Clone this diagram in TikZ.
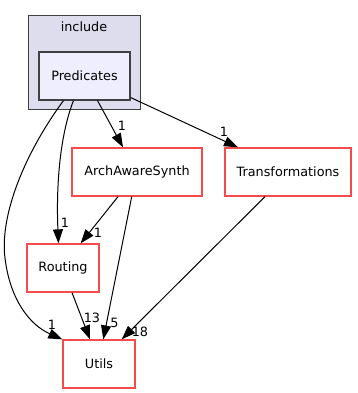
\documentclass[tikz,border=0pt]{standalone}
\usepackage{fontspec}
\setmainfont{DejaVu Sans}
\usetikzlibrary{arrows.meta}
\definecolor{clusterfill}{HTML}{DDDDEE}
\definecolor{dirfill}{HTML}{EEEEFF}
\definecolor{dirred}{RGB}{245,75,75}
\definecolor{clusterline}{HTML}{404040}
\begin{document}
\begin{tikzpicture}[x=1pt,y=-1pt,
  every node/.style={font=\fontsize{12.8}{15}\selectfont, inner sep=0pt},
  dirbox/.style={draw=dirred, line width=1.3pt, fill=white, minimum height=48pt},
  curdir/.style={draw=clusterline, line width=1.1pt, fill=dirfill, minimum height=48pt},
  dep/.style={draw=black, line width=1pt, -{Triangle[length=14pt,width=10pt]}},
  cnt/.style={inner sep=0pt}]
\useasboundingbox (0,0) rectangle (357,393);
% the "include" cluster
\draw[fill=clusterfill, draw=clusterline, line width=1pt] (28,16) rectangle (140,110);
\node (inclabel) at (84,27) {include};
% directories
\node[curdir, minimum width=91pt] (pred) at (84.5,76) {Predicates};
\node[dirbox, minimum width=130pt] (arch) at (137,172) {ArchAwareSynth};
\node[dirbox, minimum width=126pt] (trans) at (288,172) {Transformations};
\node[dirbox, minimum width=72pt] (rout) at (63,268) {Routing};
\node[dirbox, minimum width=72pt] (utils) at (99,364) {Utils};
% dependencies
\draw[dep] ([xshift=-21pt]pred.south) .. controls (20,160) and (0,220) .. (5,258)
  .. controls (10,300) and (30,325) .. (utils.north west);
\draw[dep] ([xshift=-11pt]pred.south) .. controls (60,135) and (56,185) .. ([xshift=-4.5pt]rout.north);
\draw[dep] ([xshift=13pt]pred.south) -- ([xshift=-14pt]arch.north);
\draw[dep] ([yshift=-21.5pt]pred.east) -- ([xshift=-50pt]trans.north);
\draw[dep] ([xshift=-19pt]arch.south) -- ([xshift=17.7pt]rout.north);
\draw[dep] ([xshift=-5.3pt]arch.south) -- ([xshift=4.3pt]utils.north);
\draw[dep] ([xshift=9pt]rout.south) -- ([xshift=-9pt]utils.north);
\draw[dep] ([xshift=-23pt]trans.south) -- ([xshift=22.7pt]utils.north);
% dependency counts
\node[cnt] (c1) at (122,126) {1};
\node[cnt] (c2) at (224,132) {1};
\node[cnt] (c3) at (65,223) {1};
\node[cnt] (c4) at (98,233) {1};
\node[cnt] (c5) at (52,325) {1};
\node[cnt] (c6) at (92,318) {13};
\node[cnt] (c7) at (114.5,323) {5};
\node[cnt] (c8) at (140,332) {18};
\end{tikzpicture}
\end{document}
